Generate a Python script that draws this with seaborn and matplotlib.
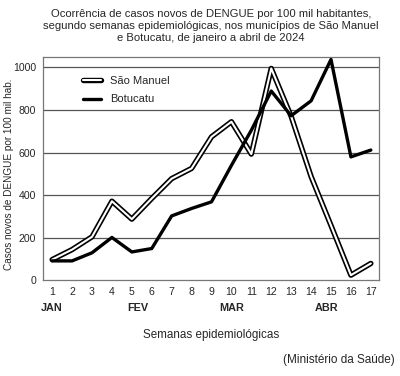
import pandas as pd
import matplotlib.pyplot as plt
import matplotlib.patheffects as pe
import seaborn as sns

# Data
weeks = list(range(1, 18))
sao_manuel = [98, 145, 205, 372, 288, 385, 478, 526, 674, 745, 593, 995, 770, 488, 258, 25, 80]
botucatu = [92, 92, 130, 202, 134, 150, 303, 338, 369, 540, 705, 889, 773, 843, 1037, 580, 612]
months = ['JAN', 'FEV', 'MAR', 'ABR']
month_pos = [1, 5.3, 10, 14.8]
y_ticks = [0, 200, 400, 600, 800, 1000]

df = pd.DataFrame({'Semana': weeks, 'São Manuel': sao_manuel, 'Botucatu': botucatu})

sns.set_style('white')
plt.rcParams['font.family'] = ['Liberation Sans', 'DejaVu Sans']

fig = plt.figure(figsize=(4.0, 3.76), dpi=100)
ax = fig.add_axes([0.108, 0.254, 0.839, 0.594])

# Sao Manuel: double line (white core with black outline)
sns.lineplot(data=df, x='Semana', y='São Manuel', ax=ax, color='white', lw=1.5,
             label='São Manuel',
             path_effects=[pe.Stroke(linewidth=3.9, foreground='black'), pe.Normal()],
             zorder=3)
sns.lineplot(data=df, x='Semana', y='Botucatu', ax=ax, color='black', lw=2.4,
             label='Botucatu', zorder=4)

ax.set_xlim(0.55, 17.4)
ax.set_ylim(0, 1048)
ax.set_xticks(weeks)
ax.set_xticklabels([str(w) for w in weeks], fontsize=7.6)
ax.set_yticks(y_ticks)
ax.set_yticklabels([str(v) for v in y_ticks], fontsize=7.6)
ax.tick_params(length=0, pad=5)

for v in y_ticks[1:]:
    ax.axhline(v, color='#555555', lw=0.9, zorder=1)

for s in ax.spines.values():
    s.set_color('#777777')
    s.set_linewidth(0.9)

ax.set_xlabel('')
ax.set_ylabel('')
fig.text(9 / 400, 1 - 174 / 376, 'Casos novos de DENGUE por 100 mil hab.', rotation=90,
         ha='center', va='center', fontsize=7.2)

# month labels
for m, p in zip(months, month_pos):
    ax.text(p, -0.123, m, transform=ax.get_xaxis_transform(), ha='center', va='center',
            fontsize=7.8, fontweight='bold')

ax.text(0.5, -0.244, 'Semanas epidemiológicas', transform=ax.transAxes, ha='center',
        va='center', fontsize=8.4)

title = ('Ocorrência de casos novos de DENGUE por 100 mil habitantes,\n'
         'segundo semanas epidemiológicas, nos municípios de São Manuel\n'
         'e Botucatu, de janeiro a abril de 2024')
fig.text(0.527, 1 - 26 / 376, title, ha='center', va='center', fontsize=8.1, linespacing=1.3)

fig.text(0.988, 1 - 360 / 376, '(Ministério da Saúde)', ha='right', va='center', fontsize=8.5)

leg = ax.legend(loc='upper left', bbox_to_anchor=(0.09, 0.96), frameon=False, fontsize=8,
                handlelength=1.6, handletextpad=0.8, labelspacing=0.75)

plt.savefig('out.png', dpi=100)
plt.close()
